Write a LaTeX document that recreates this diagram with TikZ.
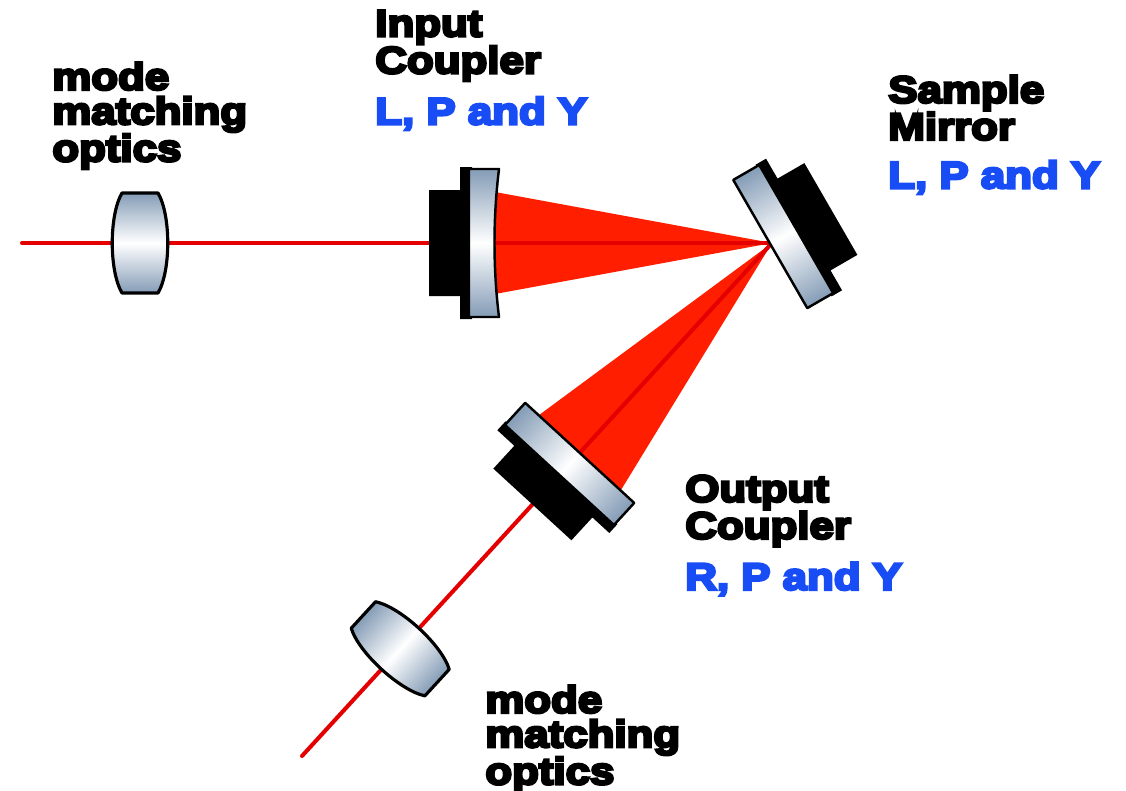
\documentclass[tikz,border=0pt]{standalone}
\usepackage{fontspec}
\newfontfamily\heavyfont{Liberation Sans}[BoldFeatures={FakeBold=7,FakeStretch=1.16}]
\usetikzlibrary{calc}

\definecolor{beamred}{RGB}{255,30,0}
\definecolor{rayred}{RGB}{228,0,0}
\definecolor{specblue}{RGB}{24,76,245}
\definecolor{glass}{RGB}{132,156,182}

% black mount: back block plus flange, face of the optic at x=0
\newcommand\mountbody{%
  \fill[black] (-68,-53) -- (-37,-53) -- (-37,-76) -- (-25,-76) -- (-25,76)
    -- (-37,76) -- (-37,53) -- (-68,53) -- cycle;}
% flat mirror plate
\newcommand\flatplate{%
  \shadedraw[plate] (-28,-74) -- (2,-74) -- (2,74) -- (-28,74) -- cycle;}
% concave mirror plate
\newcommand\concaveplate{%
  \shadedraw[plate] (-28,-74) -- (2,-74) .. controls (-4,-25) and (-4,25) .. (2,74)
    -- (-28,74) -- cycle;}
% biconvex lens, optical axis along x
\newcommand\lensbody{%
  \shadedraw[lensglass] (-18,-50) -- (18,-50) .. controls (31,-28) and (31,28) .. (18,50)
    -- (-18,50) .. controls (-31,28) and (-31,-28) .. (-18,-50) -- cycle;}

\tikzset{
  plate/.style={top color=glass, bottom color=glass, middle color=white,
    draw=black, line width=1.4pt, line join=round},
  lensglass/.style={top color=glass, bottom color=glass, middle color=white,
    draw=black, line width=1.8pt, line join=round},
  thinbeam/.style={draw=rayred, line width=2.3pt, line cap=round},
  cone/.style={fill=beamred},
  lbl/.style={anchor=north west, inner sep=0pt, align=left,
    font=\heavyfont\bfseries\fontsize{21.5}{19.6}\selectfont}
}

\begin{document}
\begin{tikzpicture}[x=0.02cm, y=-0.02cm]
\useasboundingbox (0,0) rectangle (1126,791);

% optical axis points
\coordinate (src) at (22,243);
\coordinate (lensA) at (140,243);
\coordinate (ic) at (497,243);
\coordinate (sm) at (772,243);
\coordinate (bend) at (302,756);
\coordinate (oc) at ($(sm)!0.412!(bend)$);
\coordinate (lensB) at ($(sm)!0.791!(bend)$);

% rims of the two beam cones on the coupler faces
\begin{scope}[shift={(ic)}]
  \coordinate (ic-a) at (-2,-51);
  \coordinate (ic-b) at (-2,51);
\end{scope}
\begin{scope}[shift={(oc)}, rotate=47.45]
  \coordinate (oc-a) at (0,-56);
  \coordinate (oc-b) at (0,56);
\end{scope}

% beams
\fill[cone] (sm) -- (ic-a) -- (ic-b) -- cycle;
\fill[cone] (sm) -- (oc-a) -- (oc-b) -- cycle;
\draw[thinbeam] (src) -- (ic);
\draw[thinbeam] (ic) -- (sm);
\draw[thinbeam] (sm) -- (bend);

% lenses
\begin{scope}[transform canvas={shift={(lensA)}}]
  \lensbody
\end{scope}
\begin{scope}[transform canvas={shift={(lensB)}, rotate=47.45}]
  \lensbody
\end{scope}

% input coupler
\begin{scope}[transform canvas={shift={(ic)}}]
  \mountbody
  \concaveplate
\end{scope}
% sample mirror
\begin{scope}[transform canvas={shift={(sm)}, rotate=210}]
  \mountbody
  \flatplate
\end{scope}
% output coupler
\begin{scope}[transform canvas={shift={(oc)}, rotate=47.45}]
  \mountbody
  \flatplate
\end{scope}

% labels
\node[lbl] (mmA) at (52,62) {mode\\matching\\optics};
\node[lbl] (icl) at (375,10) {Input\\Coupler\\[8pt]\textcolor{specblue}{L, P and Y}};
\node[lbl] (sml) at (888,75) {Sample\\Mirror\\[8pt]\textcolor{specblue}{L, P and Y}};
\node[lbl] (ocl) at (685,475) {Output\\Coupler\\[8pt]\textcolor{specblue}{R, P and Y}};
\node[lbl] (mmB) at (485,685) {mode\\matching\\optics};
\end{tikzpicture}
\end{document}
